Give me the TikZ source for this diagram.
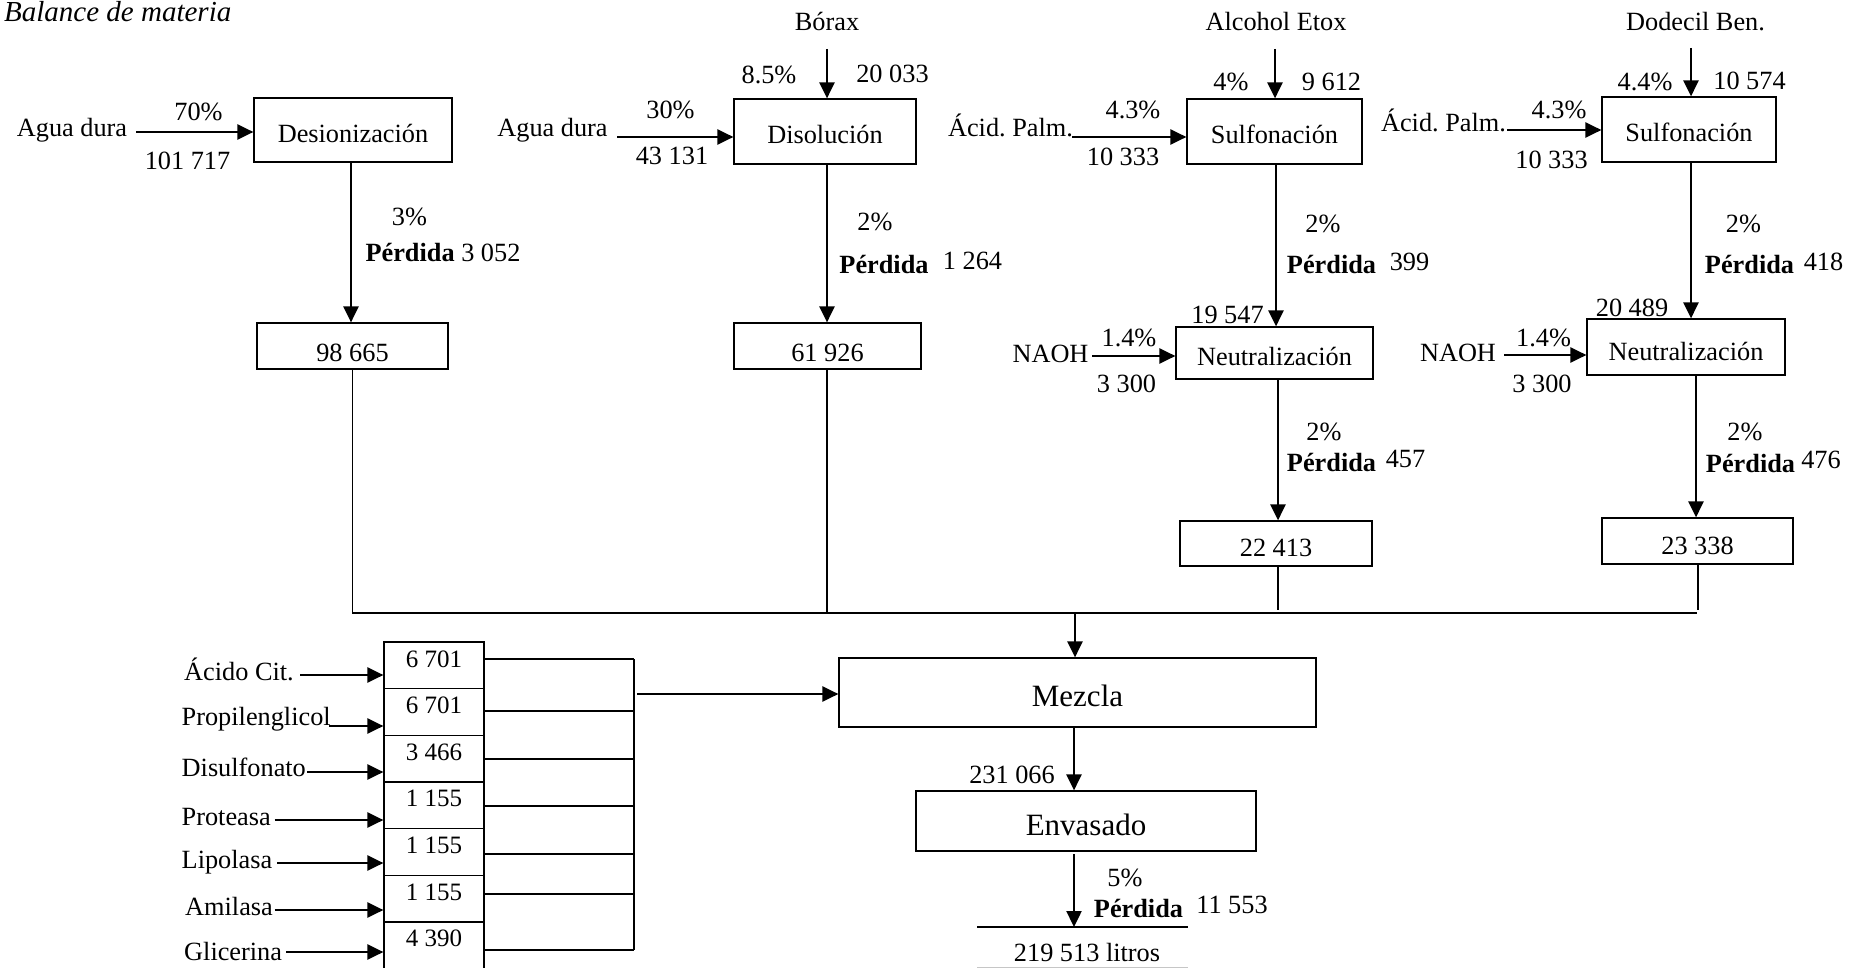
\documentclass[tikz,border=0pt]{standalone}
\usepackage{fontspec}
\setmainfont{Liberation Serif}
\usetikzlibrary{arrows.meta}
\begin{document}
\begin{tikzpicture}[x=1pt,y=-1pt,
  every node/.style={inner sep=0pt, font=\fontsize{26.3}{30}\selectfont},
  lbl/.style={text height=25.9pt, text depth=0pt},
  proc/.style={draw, line width=1.2pt, text height=25.9pt, text depth=0pt},
  rbox/.style={proc, text height=31.9pt},
  big/.style={font=\fontsize{31}{34}\selectfont, text height=28pt},
  flow/.style={line width=2.4pt, -{Triangle[length=16pt,width=15pt]}},
  bus/.style={line width=1.5pt},
  stk/.style={draw, line width=1.2pt, minimum width=100pt, minimum height=46.67pt},
  num/.style={font=\fontsize{25}{28}\selectfont, text height=17pt, text depth=0pt},
]
\useasboundingbox (0,0) rectangle (1863,968);

% title
\node[anchor=base west, font=\fontsize{29}{32}\selectfont\itshape] (title) at (4,22) {Balance de materia};

% process boxes
\node[proc, minimum width=198pt, minimum height=64pt] (des) at (353,130) {Desionización};
\node[proc, text height=23.9pt, minimum width=182pt, minimum height=65pt] (dis) at (825,131.5) {Disolución};
\node[proc, text height=23.9pt, minimum width=175pt, minimum height=65pt] (sul1) at (1274.5,131.5) {Sulfonación};
\node[proc, text height=23.9pt, minimum width=174pt, minimum height=65pt] (sul2) at (1689,129.5) {Sulfonación};
\node[rbox, minimum width=191pt, minimum height=46pt] (r1) at (352.5,346) {98 665};
\node[rbox, minimum width=187pt, minimum height=46pt] (r2) at (827.5,346) {61 926};
\node[proc, minimum width=197pt, minimum height=52pt] (neu1) at (1274.5,353) {Neutralización};
\node[proc, text height=27.9pt, minimum width=198pt, minimum height=56pt] (neu2) at (1686,347) {Neutralización};
\node[proc, minimum width=192pt, minimum height=45pt] (r3) at (1276,543.5) {22 413};
\node[proc, text height=27.9pt, minimum width=191pt, minimum height=46pt] (r4) at (1697.5,541) {23 338};
\node[proc, big, minimum width=477pt, minimum height=69pt] (mez) at (1077.5,692.5) {Mezcla};
\node[proc, big, minimum width=340pt, minimum height=60pt] (env) at (1086,821) {Envasado};

% input labels top row
\node[lbl] (agua1) at (72,124) {Agua dura};
\node[lbl] (p70) at (198.5,108) {70\%};
\node[lbl] (q1) at (187.5,157) {101 717};
\node[lbl] (borax) at (827,18) {Bórax};
\node[lbl] (p85) at (769,71) {8.5\%};
\node[lbl] (q2) at (892.5,70) {20 033};
\node[lbl] (agua2) at (552.5,124) {Agua dura};
\node[lbl] (p30) at (670.5,106) {30\%};
\node[lbl] (q3) at (672,152) {43 131};
\node[lbl] (alc) at (1276,18) {Alcohol Etox};
\node[lbl] (p4) at (1231,78) {4\%};
\node[lbl] (q4) at (1331.5,78) {9 612};
\node[lbl] (pal1) at (1010.5,124) {Ácid.\ Palm.};
\node[lbl] (p43a) at (1133,106) {4.3\%};
\node[lbl] (q5) at (1123,153) {10 333};
\node[lbl] (dod) at (1695.5,18) {Dodecil Ben.};
\node[lbl] (p44) at (1645,78) {4.4\%};
\node[lbl] (q6) at (1749.5,77) {10 574};
\node[lbl] (pal2) at (1443.5,119) {Ácid.\ Palm.};
\node[lbl] (p43b) at (1559,106) {4.3\%};
\node[lbl] (q7) at (1551.5,156) {10 333};

% loss labels
\node[lbl] (l1p) at (409.5,213) {3\%};
\node[lbl] (l1) at (443,249) {\textbf{Pérdida} 3 052};
\node[lbl] (l2p) at (875,218) {2\%};
\node[lbl] (l2) at (884,261) {\textbf{Pérdida}};
\node[lbl] (l2q) at (972.5,257) {1 264};
\node[lbl] (l3p) at (1323,220) {2\%};
\node[lbl] (l3) at (1331.5,261) {\textbf{Pérdida}};
\node[lbl] (l3q) at (1409.5,258) {399};
\node[lbl] (l4p) at (1743.5,220) {2\%};
\node[lbl] (l4) at (1749.5,261) {\textbf{Pérdida}};
\node[lbl] (l4q) at (1823.5,258) {418};
\node[lbl] (f1) at (1227.5,311) {19 547};
\node[lbl] (f2) at (1632,304) {20 489};
\node[lbl] (na1) at (1050.5,350) {NAOH};
\node[lbl] (p14a) at (1129,334) {1.4\%};
\node[lbl] (q8) at (1126.5,380) {3 300};
\node[lbl] (na2) at (1458,349) {NAOH};
\node[lbl] (p14b) at (1543.5,334) {1.4\%};
\node[lbl] (q9) at (1542,380) {3 300};
\node[lbl] (l5p) at (1324,428) {2\%};
\node[lbl] (l5) at (1331.5,459) {\textbf{Pérdida}};
\node[lbl] (l5q) at (1405.5,455) {457};
\node[lbl] (l6p) at (1745,428) {2\%};
\node[lbl] (l6) at (1750.5,460) {\textbf{Pérdida}};
\node[lbl] (l6q) at (1821,456) {476};

% bottom labels
\node[lbl] (q10) at (1012,771) {231 066};
\node[lbl] (l7p) at (1125,874) {5\%};
\node[lbl] (l7) at (1138.5,905) {\textbf{Pérdida}};
\node[lbl] (l7q) at (1232,901) {11 553};
\node[lbl] (prod) at (1087,949) {219 513 litros};

% arrow start coordinates (top row)
\coordinate (a1) at (136,132);
\coordinate (a2) at (827,49);
\coordinate (a3) at (617,137);
\coordinate (a4) at (1275,49);
\coordinate (a5) at (1072,137);
\coordinate (a6) at (1691,48);
\coordinate (a7) at (1507,130);
\coordinate (a8) at (1092,356);
\coordinate (a9) at (1504,355);

\draw[flow] (a1) -- (a1 -| des.west);
\draw[flow] (a2) -- (a2 |- dis.north);
\draw[flow] (a3) -- (a3 -| dis.west);
\draw[flow] (a4) -- (a4 |- sul1.north);
\draw[flow] (a5) -- (a5 -| sul1.west);
\draw[flow] (a6) -- (a6 |- sul2.north);
\draw[flow] (a7) -- (a7 -| sul2.west);
\draw[flow] (a8) -- (a8 -| neu1.west);
\draw[flow] (a9) -- (a9 -| neu2.west);

% vertical process flows
\coordinate (d1) at (351,162);
\coordinate (d2) at (827,164);
\coordinate (d3) at (1276,164);
\coordinate (d4) at (1691,162);
\coordinate (d5) at (1278,379);
\coordinate (d6) at (1696,375);
\draw[flow] (d1) -- (d1 |- r1.north);
\draw[flow] (d2) -- (d2 |- r2.north);
\draw[flow] (d3) -- (d3 |- neu1.north);
\draw[flow] (d4) -- (d4 |- neu2.north);
\draw[flow] (d5) -- (d5 |- r3.north);
\draw[flow] (d6) -- (d6 |- r4.north);

% collecting bus
\coordinate (jl) at (352,613);
\coordinate (jr) at (1697,613);
\coordinate (jm) at (1075,613);
\draw[bus] (jl) -- (jr);
\draw[bus] (r1.south) -- (r1.south |- jl);
\draw[bus] (d2 |- r2.south) -- (d2 |- jl);
\draw[bus] (d5 |- r3.south) -- (1278,610);
\draw[bus] (1698,564) -- (1698,610);
\draw[flow] (jm) -- (jm |- mez.north);

% mixing and packaging
\coordinate (m1) at (1074,727);
\coordinate (m2) at (1074,854);
\coordinate (o1) at (977,927);
\coordinate (o2) at (1188,927);
\draw[flow] (m1) -- (m1 |- env.north);
\draw[flow] (m2) -- (m2 |- o1);
\draw[line width=1.8pt] (o1) -- (o2);
\draw[line width=1pt, gray!45] (977,967) -- (1188,967);

% additive stack
\node[stk] (s1) at (434,665.33) {};
\node[stk] (s2) at (434,712) {};
\node[stk] (s3) at (434,758.67) {};
\node[stk] (s4) at (434,805.33) {};
\node[stk] (s5) at (434,852) {};
\node[stk] (s6) at (434,898.67) {};
\node[stk] (s7) at (434,945.33) {};
\node[num] (n1) at (434,659) {6 701};
\node[num] (n2) at (434,705) {6 701};
\node[num] (n3) at (434,752) {3 466};
\node[num] (n4) at (434,798) {1 155};
\node[num] (n5) at (434,845) {1 155};
\node[num] (n6) at (434,892) {1 155};
\node[num] (n7) at (434,938) {4 390};

\node[lbl, anchor=west] (e1) at (184,668) {Ácido Cit.};
\node[lbl, anchor=west] (e2) at (181.5,713) {Propilenglicol};
\node[lbl, anchor=west] (e3) at (181.5,764) {Disulfonato};
\node[lbl, anchor=west] (e4) at (181.5,813) {Proteasa};
\node[lbl, anchor=west] (e5) at (181.5,856) {Lipolasa};
\node[lbl, anchor=west] (e6) at (185,903) {Amilasa};
\node[lbl, anchor=west] (e7) at (184,948) {Glicerina};

\coordinate (b1) at (300,675);
\coordinate (b2) at (329,726);
\coordinate (b3) at (307,772);
\coordinate (b4) at (274.5,820);
\coordinate (b5) at (277,863);
\coordinate (b6) at (274.5,910);
\coordinate (b7) at (286,952);
\draw[flow] (b1) -- (b1 -| s1.west);
\draw[flow] (b2) -- (b2 -| s2.west);
\draw[flow] (b3) -- (b3 -| s3.west);
\draw[flow] (b4) -- (b4 -| s4.west);
\draw[flow] (b5) -- (b5 -| s5.west);
\draw[flow] (b6) -- (b6 -| s6.west);
\draw[flow] (b7) -- (b7 -| s7.west);

\coordinate (c1) at (634,659);
\coordinate (c2) at (634,711);
\coordinate (c3) at (634,759);
\coordinate (c4) at (634,806);
\coordinate (c5) at (634,854);
\coordinate (c6) at (634,894);
\coordinate (c7) at (634,950);
\draw[bus] (c1 -| s1.east) -- (c1);
\draw[bus] (c2 -| s2.east) -- (c2);
\draw[bus] (c3 -| s3.east) -- (c3);
\draw[bus] (c4 -| s4.east) -- (c4);
\draw[bus] (c5 -| s5.east) -- (c5);
\draw[bus] (c6 -| s6.east) -- (c6);
\draw[bus] (c7 -| s7.east) -- (c7);
\draw[bus] (c1) -- (c7);
\coordinate (cm) at (637,694);
\draw[flow] (cm) -- (cm -| mez.west);
\end{tikzpicture}
\end{document}
